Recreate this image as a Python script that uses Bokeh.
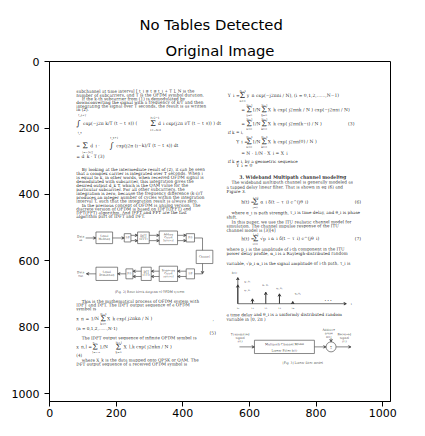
from bokeh.plotting import figure
from bokeh.models import Range1d, FixedTicker, Title, ColumnDataSource, Arrow, VeeHead
from bokeh.core.properties import value
from bokeh.embed import file_html
from bokeh.resources import INLINE

# imagem original: 1024 x 1024 pixels
img_size = 1024
ticks = [0, 200, 400, 600, 800, 1000]

# texto corrido (coordenadas em pixels da imagem)
body_text = [
    "subchannel at time interval [ t_i ≤ t ≤ t_i + T ], N is the",
    "number of subcarriers, and T is the OFDM symbol duration.",
    "If the k-th subcarrier from (1) is demodulated by",
    "downconverting the signal with a frequency of k/T and then",
    "integrating the signal over T seconds, the result is as written",
    "in (2).",
    "By looking at the intermediate result of (2), it can be seen",
    "that a complex carrier is integrated over T seconds. When i",
    "is equal to k, in other words, when received OFDM signal is",
    "demodulated with subcarrier, this integration gives the",
    "desired output d_k T, which is the QAM value for the",
    "particular subcarrier. For all other subcarriers, the",
    "integration is zero, because the frequency difference (k-i)/T",
    "produces an integer number of cycles within the integration",
    "interval T, such that the integration result is always zero.",
    "In the previous concept of OFDM is analog version. The",
    "discrete version of OFDM is based on IDFT(IFFT) and",
    "DFT(FFT) algorithm. And IFFT and FFT are the fast",
    "algorithm part of IDFT and DFT.",
    "This is the mathematical process of OFDM system with",
    "IDFT and DFT. The IDFT output sequence of a OFDM",
    "symbol is",
    "(n = 0,1,2,......,N-1)",
    "The IDFT output sequence of infinite OFDM symbol is",
    "(4)",
    "where X_k is the data mapped onto QPSK or QAM. The",
    "DFT output sequence of a received OFDM symbol is",
    "if k = i,",
    "if k ≠ i, by a geometric sequence",
    "The wideband multipath channel is generally modeled as",
    "a tapped delay linear filter. That is shown in eq (6) and",
    "Figure 3.",
    "where α_i is path strength, τ_i is time delay, and θ_i is phase",
    "shift.",
    "In this paper, we use the ITU realistic channel model for",
    "simulation. The channel impulse response of the ITU",
    "channel model is [3][4]",
    "where p_i is the amplitude of i-th component in the ITU",
    "power delay profile, α_i is a Rayleigh-distributed random",
    "variable, √p_i α_i is the signal amplitude of i-th path, τ_i is",
    "a time delay and θ_i is a uniformly distributed random",
    "variable in [0, 2π )",
]
body_x = [80, 80, 96, 80, 80, 80, 96, 80, 80, 80, 80, 80, 80, 80, 80, 96, 80, 80, 80,
          96, 80, 80, 80, 96, 80, 96, 80,
          535, 535, 546, 531, 531, 546, 531, 546, 531, 531, 531, 531, 531, 531, 531]
body_y = [89, 101, 112, 123, 134, 144, 325, 337, 349, 361, 373, 385, 397, 409, 420, 433, 444, 455, 466,
          722, 733, 744, 804, 832, 884, 899, 911,
          213, 301, 363, 378, 391, 455, 468, 483, 495, 508, 565, 578, 608, 762, 776]

# equações
eq_text = [
    "exp(−j2π k/T (t − t_s)) (", "d_i exp(j2π i/T (t − t_s)) ) dt",
    "=", "d_i ·", "exp(j2π (i−k)/T (t − t_s)) dt",
    "= d_k · T     (3)",
    "x_n =  1/N", "X_k exp( j2πkn / N )", ",", "(5)",
    "x_n,l =", "1/N", "X_l,k exp( j2πkn / N )",
    "Y_i =", "y_n exp(−j2πni / N),   (i = 0,1,2,......,N−1)",
    "=", "1/N", "X_k exp( j2πnk / N ) exp(−j2πni / N)",
    "=", "1/N", "X_k exp( j2πn(k−i) / N )", "(3)",
    "Y_i =", "1/N", "X_k exp( j2πn(0) / N )",
    "= N · 1/N · X_i = X_i",
    "Y_i = 0",
    "h(t) =", "α_i δ(t − τ_i) e^(jθ_i)", "(6)",
    "h(t) =", "√p_i α_i δ(t − τ_i) e^(jθ_i)", "(7)",
]
eq_x = [100, 325, 80, 122, 200, 80, 80, 172, 489, 480, 80, 150, 222,
        535, 592, 575, 608, 655, 575, 608, 655, 896, 560, 608, 655, 575, 560,
        575, 632, 916, 575, 632, 916]
eq_y = [186, 186, 253, 253, 253, 286, 774, 774, 774, 817, 859, 859, 859,
        102, 102, 145, 145, 145, 187, 187, 187, 187, 241, 241, 241, 276, 313,
        423, 423, 423, 533, 533, 533]

# somatórios e integrais
sym_text = ["∫", "Σ", "Σ", "∫", "Σ", "Σ", "Σ", "Σ", "Σ", "Σ", "Σ", "Σ", "Σ", "Σ", "Σ", "Σ"]
sym_x = [80, 302, 98, 180, 152, 128, 198, 570, 590, 635, 590, 635, 590, 635, 610, 610]
sym_y = [186, 186, 253, 253, 774, 859, 859, 102, 145, 145, 187, 187, 241, 241, 423, 533]

# limites dos somatórios / integrais
lim_text = ["t_s+T", "t_s", "N/2−1", "i=−N/2", "t_s+T", "i=−N/2", "N−1", "k=0",
            "∞", "l=−∞", "N−1", "k=0", "N−1", "n=0", "N−1", "n=0", "N−1", "k=0",
            "N−1", "n=0", "N−1", "k=0", "N−1", "n=0", "N−1", "k=0", "L−1", "i=0", "L−1", "i=0"]
lim_x = [86, 84, 302, 302, 182, 98, 152, 152,
         128, 128, 198, 198, 570, 570, 590, 590, 635, 635,
         590, 590, 635, 635, 590, 590, 635, 635, 610, 610, 610, 610]
lim_y = [160, 212, 168, 205, 228, 272, 759, 788,
         845, 874, 845, 874, 87, 117, 130, 160, 130, 160,
         172, 202, 172, 202, 226, 256, 226, 256, 409, 438, 519, 548]

heading = ["3. Wideband Multipath channel modeling"]
heading_x = [730]
heading_y = [348]

# Fig. 2 - diagrama de blocos
box_left = [139, 224, 264, 329, 410, 440, 139, 229, 275, 329, 410]
box_right = [189, 244, 299, 384, 435, 490, 204, 250, 305, 384, 435]
box_top = [513, 518, 513, 510, 518, 568, 619, 624, 619, 616, 624]
box_bottom = [548, 543, 548, 551, 543, 608, 659, 654, 659, 662, 654]
box_label = ["Signal\nMapping", "S/P", "IDFT\n(IFFT)", "Adding\nGuard\nInterval", "P/S", "Channel",
             "Signal\nDemapping", "P/S", "DFT\n(FFT)", "Removing\nGuard\ninterval", "S/P"]

arrow_x0 = [108, 189, 244, 244, 299, 299, 384, 384, 459, 410, 410, 329, 329, 275, 275, 229, 139,
            570, 795, 845, 860]
arrow_y0 = [531, 531, 523, 539, 523, 539, 523, 539, 608, 631, 647, 631, 647, 631, 647, 639, 639,
            859, 859, 833, 859]
arrow_x1 = [139, 224, 264, 264, 329, 329, 410, 410, 459, 384, 384, 305, 305, 250, 250, 204, 110,
            615, 830, 845, 905]
arrow_y1 = [531, 531, 523, 539, 523, 539, 523, 539, 639, 631, 647, 631, 647, 631, 647, 639, 639,
            859, 859, 844, 859]
path_x = [[435, 459, 459], [459, 435]]
path_y = [[531, 531, 568], [639, 639]]

diagram_text = ["Data\nin", "Data\nout", "[Fig. 2] Basic block diagram of OFDM system",
                "Transmitted\nsignal\ns(t)", "Additive\nnoise\nn(t)", "Received\nsignal\nr(t)",
                "Multipath Channel Model", "Linear Filter h(t)", "Σ",
                "[Fig. 3] Linear filter model", "h(t)", "t", "• • •"]
diagram_x = [93, 93, 300, 572, 838, 885, 705, 705, 845, 760, 555, 906, 836]
diagram_y = [531, 639, 692, 831, 817, 831, 850, 869, 859, 906, 635, 729, 719]

# resposta ao impulso (h(t))
tau_x = [565, 609, 649, 690, 730]
tau_top = [672, 714, 694, 699, 722]
tau_base = 729
tau_label = ["τ₀", "τ₁", "τ₂", "τ₃", "τ₄"]
coef_label = ["α₀,θ₀", "α₁,θ₁", "α₂,θ₂", "α₃,θ₃", "α₄,θ₄"]
coef_x = [594, 594, 648, 690, 745]
coef_y = [664, 690, 674, 684, 700]


p = figure(width=420, height=432, output_backend="svg", toolbar_location=None,
           x_range=Range1d(-0.5, img_size - 0.5), y_range=Range1d(img_size - 0.5, -0.5),
           min_border_left=49, min_border_right=30, min_border_top=61, min_border_bottom=31,
           background_fill_color="white", border_fill_color="white")

p.add_layout(Title(text="Original Image", align="center", text_font="DejaVu Sans",
                   text_font_size="14.8px", text_font_style="normal", text_color="black", standoff=6), "above")
p.add_layout(Title(text="No Tables Detected", align="left", text_font="DejaVu Sans",
                   text_font_size="14.8px", text_font_style="normal", text_color="black",
                   standoff=7, offset=90), "above")

p.grid.visible = False
p.outline_line_color = "black"
p.outline_line_width = 1
for ax in (p.xaxis, p.yaxis):
    ax.ticker = FixedTicker(ticks=ticks)
    ax.minor_tick_line_color = None
    ax.major_tick_in = 0
    ax.major_tick_out = 5
    ax.axis_line_color = "black"
    ax.major_tick_line_color = "black"
    ax.major_label_text_font = "DejaVu Sans"
    ax.major_label_text_font_size = "11px"
    ax.major_label_text_color = "black"
p.xaxis.major_label_standoff = 2
p.yaxis.major_label_standoff = 5

ink = "#111111"
tilt = 0.002  # rotação mínima: texto da página em tons de cinza
p.text(body_x, body_y, text=body_text, angle=tilt, text_font=value("DejaVu Serif"), text_font_size="4.2px",
       text_color=ink, text_alpha=0.95, text_baseline="middle")
p.text(eq_x, eq_y, text=eq_text, angle=tilt, text_font=value("DejaVu Serif"), text_font_size="4.5px",
       text_color=ink, text_alpha=0.95, text_baseline="middle")
p.text(sym_x, sym_y, text=sym_text, angle=tilt, text_font=value("DejaVu Serif"), text_font_size="8px",
       text_color=ink, text_alpha=0.95, text_baseline="middle")
p.text(lim_x, lim_y, text=lim_text, angle=tilt, text_font=value("DejaVu Serif"), text_font_size="2.8px",
       text_color=ink, text_alpha=0.95, text_baseline="middle")
p.text(heading_x, heading_y, text=heading, angle=tilt, text_font=value("DejaVu Serif"), text_font_size="4.6px",
       text_font_style="bold", text_color=ink, text_alpha=0.95, text_align="center", text_baseline="middle")

box_src = ColumnDataSource(dict(left=box_left, right=box_right, top=box_top, bottom=box_bottom,
                                cx=[(a + b) / 2 for a, b in zip(box_left, box_right)],
                                cy=[(a + b) / 2 for a, b in zip(box_top, box_bottom)],
                                label=box_label))
p.quad(left="left", right="right", top="top", bottom="bottom", source=box_src,
       fill_color="white", line_color="#555555", line_width=0.7)
p.text(x="cx", y="cy", text="label", source=box_src, angle=tilt, text_font=value("DejaVu Serif"),
       text_font_size="2.6px", text_color=ink, text_alpha=0.9, text_align="center",
       text_baseline="middle", text_line_height=1.0)

p.multi_line(path_x, path_y, line_color="#555555", line_width=0.7)
arrow_src = ColumnDataSource(dict(x0=arrow_x0, y0=arrow_y0, x1=arrow_x1, y1=arrow_y1))
p.add_layout(Arrow(end=VeeHead(size=2.5, line_color="#555555", line_width=0.7), source=arrow_src,
                   x_start="x0", y_start="y0", x_end="x1", y_end="y1",
                   line_color="#555555", line_width=0.7))

# Fig. 3 - filtro linear
p.quad(left=[615], right=[795], top=[839], bottom=[879], fill_color="white",
       line_color="#555555", line_width=0.7)
p.circle(x=[845], y=[859], radius=15, fill_color="white", line_color="#555555", line_width=0.7)
p.text(diagram_x, diagram_y, text=diagram_text, angle=tilt, text_font=value("DejaVu Serif"),
       text_font_size="3px", text_color=ink, text_alpha=0.9, text_align="center",
       text_baseline="middle", text_line_height=1.0)

# resposta ao impulso
stem_src = ColumnDataSource(dict(x0=tau_x, y0=[tau_base] * len(tau_x), x1=tau_x, y1=tau_top))
p.add_layout(Arrow(end=VeeHead(size=2.5, line_color="#333333", line_width=0.8), source=stem_src,
                   x_start="x0", y_start="y0", x_end="x1", y_end="y1",
                   line_color="#333333", line_width=1.0))
p.add_layout(Arrow(end=VeeHead(size=2.5, line_color="#333333", line_width=0.7),
                   x_start=565, y_start=tau_base, x_end=891, y_end=tau_base,
                   line_color="#333333", line_width=0.7))
p.add_layout(Arrow(end=VeeHead(size=2.5, line_color="#333333", line_width=0.7),
                   x_start=565, y_start=tau_base, x_end=565, y_end=650,
                   line_color="#333333", line_width=0.7))
p.text(tau_x, [741] * len(tau_x), text=tau_label, angle=tilt, text_font=value("DejaVu Serif"),
       text_font_size="3px", text_color=ink, text_alpha=0.9, text_align="center", text_baseline="middle")
p.text(coef_x, coef_y, text=coef_label, angle=tilt, text_font=value("DejaVu Serif"),
       text_font_size="2.6px", text_color=ink, text_alpha=0.9, text_align="center", text_baseline="middle")

open("out.html", "w").write(file_html(p, INLINE))
